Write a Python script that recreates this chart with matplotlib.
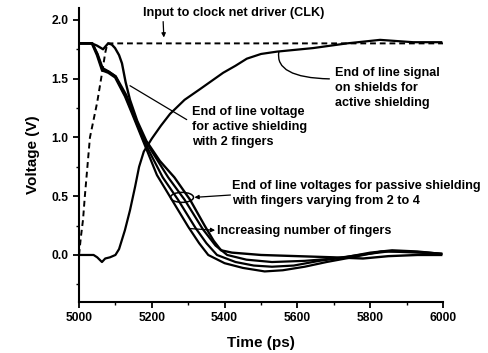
import matplotlib
matplotlib.use("Agg")
import matplotlib.pyplot as plt
from matplotlib.patches import Ellipse
from matplotlib.ticker import MultipleLocator

plt.rcParams['font.family'] = ['Liberation Sans', 'DejaVu Sans']
plt.rcParams['font.weight'] = 'bold'

# input to clock net driver (dashed)
clk_t = [5000, 5005, 5011, 5016, 5023, 5030, 5040, 5050, 5058, 5066, 5072, 5078, 6000]
clk_v = [0.0, 0.15, 0.3, 0.5, 0.75, 1.0, 1.15, 1.3, 1.45, 1.6, 1.72, 1.8, 1.8]

# end of line signal on shields (active shielding)
sh_t = [5000, 5040, 5050, 5063, 5072, 5085, 5100, 5110, 5126, 5140, 5154, 5165,
        5178, 5200, 5225, 5250, 5290, 5332, 5396, 5430, 5461, 5500, 5544, 5643,
        5736, 5827, 5918, 5995]
sh_v = [0.0, 0.0, -0.02, -0.06, -0.03, -0.02, 0.0, 0.05, 0.21, 0.38, 0.58, 0.75,
        0.88, 0.99, 1.10, 1.20, 1.32, 1.41, 1.55, 1.61, 1.67, 1.71, 1.73, 1.76,
        1.80, 1.83, 1.81, 1.81]

# end of line voltage, active shielding with 2 fingers
act_t = [5000, 5035, 5050, 5066, 5080, 5090, 5099, 5110, 5118, 5128, 5140, 5160,
         5185, 5222, 5262, 5305, 5345, 5370, 5390, 5420, 5500, 5600, 5700, 5780,
         5850, 5930, 5995]
act_v = [1.80, 1.80, 1.78, 1.75, 1.80, 1.79, 1.76, 1.70, 1.63, 1.47, 1.32, 1.14,
         0.97, 0.80, 0.66, 0.47, 0.25, 0.12, 0.04, 0.02, 0.0, -0.01, -0.02, -0.03,
         -0.01, 0.0, 0.0]

# end of line voltages, passive shielding (2, 3, 4 fingers)
p1_t = [5000, 5035, 5049, 5063, 5080, 5099, 5126, 5146, 5176, 5214, 5255, 5300,
        5330, 5355, 5400, 5450, 5510, 5560, 5620, 5680, 5750, 5830, 5900, 5960, 5995]
p1_v = [1.80, 1.80, 1.70, 1.57, 1.55, 1.51, 1.35, 1.20, 0.97, 0.68, 0.47, 0.24,
        0.10, 0.0, -0.07, -0.11, -0.14, -0.13, -0.10, -0.06, -0.02, 0.03, 0.03, 0.02, 0.01]
p2_t = [5000, 5036, 5050, 5064, 5081, 5100, 5128, 5148, 5178, 5230, 5272, 5320,
        5350, 5379, 5430, 5480, 5530, 5590, 5660, 5730, 5800, 5860, 5930, 5995]
p2_v = [1.80, 1.80, 1.71, 1.58, 1.56, 1.52, 1.35, 1.20, 0.97, 0.66, 0.47, 0.23,
        0.10, 0.0, -0.06, -0.09, -0.10, -0.09, -0.05, -0.02, 0.02, 0.04, 0.03, 0.01]
p3_t = [5000, 5037, 5051, 5065, 5082, 5101, 5130, 5150, 5180, 5245, 5290, 5340,
        5375, 5407, 5460, 5530, 5620, 5700, 5770, 5850, 5930, 5995]
p3_v = [1.80, 1.80, 1.71, 1.59, 1.56, 1.52, 1.36, 1.20, 0.98, 0.66, 0.47, 0.22,
        0.08, 0.0, -0.04, -0.06, -0.05, -0.03, 0.0, 0.03, 0.02, 0.01]

fig = plt.figure(figsize=(4.89, 3.53), dpi=100)
ax = fig.add_axes([0.1616, 0.1445, 0.7444, 0.8325])

ax.plot(clk_t, clk_v, color='black', lw=1.4, ls=(0, (3, 2)))
ax.plot(sh_t, sh_v, color='black', lw=1.6)
ax.plot(act_t, act_v, color='black', lw=1.7)
for t, v in [(p1_t, p1_v), (p2_t, p2_v), (p3_t, p3_v)]:
    ax.plot(t, v, color='black', lw=1.6)

ax.set_xlim(5000, 6000)
ax.set_ylim(-0.4, 2.1)
ax.xaxis.set_major_locator(MultipleLocator(200))
ax.xaxis.set_minor_locator(MultipleLocator(100))
ax.yaxis.set_major_locator(MultipleLocator(0.5))
ax.yaxis.set_minor_locator(MultipleLocator(0.25))
ax.yaxis.set_major_formatter(plt.FormatStrFormatter('%.1f'))
for s in ['top', 'right']:
    ax.spines[s].set_visible(False)
for s in ['left', 'bottom']:
    ax.spines[s].set_linewidth(1.5)
ax.tick_params(which='major', length=4, width=1.3, labelsize=8.7)
ax.tick_params(which='minor', length=2.5, width=1.0)
ax.set_xlabel('Time (ps)', fontsize=11, fontweight='bold', labelpad=8)
ax.set_ylabel('Voltage (V)', fontsize=11, fontweight='bold', labelpad=8)

fs = 9.1
ls = 1.3
ax.annotate('Input to clock net driver (CLK)', xy=(5233, 1.85), xytext=(5176, 2.06),
            fontsize=fs, va='center', ha='left', annotation_clip=False,
            arrowprops=dict(arrowstyle='-|>', color='black', lw=0.9,
                            mutation_scale=6, shrinkA=0, shrinkB=0,
                            relpos=(0.11, 0.0)))
ax.annotate('End of line signal\non shields for\nactive shielding',
            xy=(5549, 1.73), xytext=(5703, 1.42), fontsize=fs, va='center', ha='left',
            linespacing=ls,
            arrowprops=dict(arrowstyle='-', color='black', lw=1.0,
                            connectionstyle='angle3,angleA=180,angleB=80',
                            shrinkA=2, shrinkB=0, relpos=(0.0, 0.72)))
ax.annotate('End of line voltage\nfor active shielding\nwith 2 fingers',
            xy=(5140, 1.44), xytext=(5310, 1.09), fontsize=fs, va='center', ha='left',
            linespacing=ls,
            arrowprops=dict(arrowstyle='-', color='black', lw=0.9,
                            shrinkA=2, shrinkB=0, relpos=(0.0, 0.6)))
ax.text(5420, 0.523, 'End of line voltages for passive shielding\nwith fingers varying from 2 to 4',
        fontsize=fs, va='center', ha='left', linespacing=ls, clip_on=False)
ax.add_patch(Ellipse((5283, 0.49), 63, 0.085, fill=False, ec='black', lw=1.1))
ax.annotate('', xy=(5317, 0.49), xytext=(5416, 0.51),
            arrowprops=dict(arrowstyle='-|>', color='black', lw=0.9,
                            mutation_scale=6, shrinkA=0, shrinkB=0))
ax.annotate('', xy=(5374, 0.21), xytext=(5303, 0.225),
            arrowprops=dict(arrowstyle='-|>', color='black', lw=0.9,
                            mutation_scale=6, shrinkA=0, shrinkB=0))
ax.text(5379, 0.2, 'Increasing number of fingers', fontsize=fs, va='center', ha='left')

fig.savefig('out.png', dpi=100)
